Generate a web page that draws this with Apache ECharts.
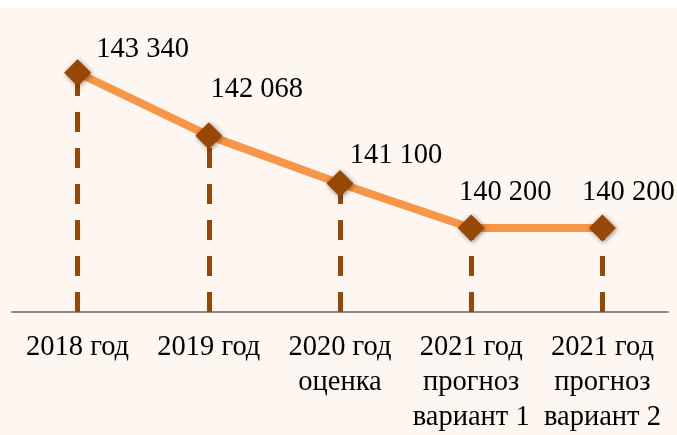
<!DOCTYPE html>
<html>
<head>
<meta charset="utf-8">
<script src="https://cdn.jsdelivr.net/npm/echarts@6/dist/echarts.min.js"></script>
<style>
  html, body { margin: 0; padding: 0; background: #fff; }
  #chart { width: 677px; height: 435px; }
</style>
</head>
<body>
<div id="chart"></div>
<script>
// данные
var categories = ['2018 год', '2019 год', '2020 год\nоценка', '2021 год\nпрогноз\nвариант 1', '2021 год\nпрогноз\nвариант 2'];
var values = [143340, 142068, 141100, 140200, 140200];

// смещения подписей значений относительно точки
var labelOffsets = [[65, -23], [48, -46], [56, -28], [34, -35], [26, -35]];

var yMin = 138500, yMax = 144650;
var serif = "'Liberation Serif', 'Times New Roman', serif";

var fmt = function (v) {
    return String(v).replace(/\B(?=(\d{3})+(?!\d))/g, ' ');
};

var points = values.map(function (v, i) {
    return {
        value: v,
        label: { offset: labelOffsets[i] }
    };
});

var drops = values.map(function (v, i) {
    return [{ coord: [i, yMin] }, { coord: [i, v] }];
});

var chart = echarts.init(document.getElementById('chart'));
var option = {
    backgroundColor: '#fff',
    animation: false,
    graphic: [{
        type: 'rect',
        z: -10,
        silent: true,
        shape: { x: 0, y: 8, width: 677, height: 427 },
        style: { fill: '#fdf6f1' }
    }],
    grid: { left: 12, right: 9, top: 8, bottom: 119 },
    xAxis: {
        type: 'category',
        data: categories,
        axisTick: { show: false },
        axisLine: { lineStyle: { color: '#8c8c8c', width: 2 } },
        axisLabel: {
            interval: 0,
            margin: 18,
            color: '#000',
            fontFamily: serif,
            fontSize: 28.5,
            lineHeight: 35
        }
    },
    yAxis: {
        type: 'value',
        min: yMin,
        max: yMax,
        show: false,
        splitLine: { show: false }
    },
    series: [
        {
            type: 'line',
            z: 1,
            data: [],
            silent: true,
            markLine: {
                z: 1,
                silent: true,
                symbol: ['none', 'none'],
                label: { show: false },
                lineStyle: { color: '#974806', width: 5, type: [20, 16] },
                data: drops
            }
        },
        {
            type: 'line',
            z: 3,
            data: points,
            symbol: 'diamond',
            symbolSize: 27,
            lineStyle: { color: '#f79646', width: 8 },
            itemStyle: {
                color: '#974806',
                shadowBlur: 5,
                shadowColor: 'rgba(0,0,0,0.45)',
                shadowOffsetX: 1,
                shadowOffsetY: 1
            },
            label: {
                show: true,
                position: 'inside',
                color: '#000',
                fontFamily: serif,
                fontSize: 28.5,
                formatter: function (p) { return fmt(p.value); }
            }
        }
    ]
};
chart.setOption(option);
</script>
</body>
</html>
